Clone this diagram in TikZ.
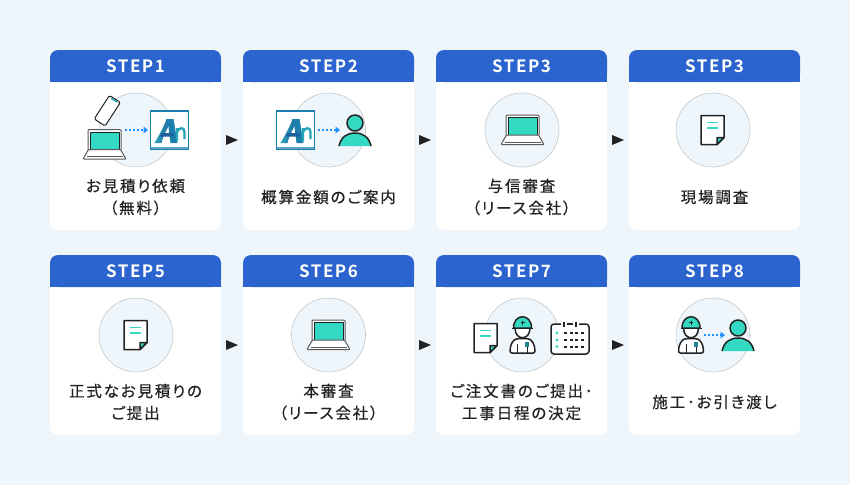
\documentclass[tikz,border=0pt]{standalone}
\usepackage{fontspec}
\newfontfamily\jpfont[RawFeature={+palt},LetterSpace=12,FakeBold=0.5]{Noto Sans CJK JP}
\newfontfamily\stepfont[LetterSpace=9]{Noto Sans CJK JP Bold}
\definecolor{pagebg}{HTML}{EEF6FC}
\definecolor{headblue}{HTML}{2B63CF}
\definecolor{teal1}{HTML}{33D9C3}
\definecolor{dotblue}{HTML}{1E90FF}
\definecolor{inkc}{HTML}{222222}
\definecolor{logoblue}{HTML}{1B7FAE}
\definecolor{logodark}{HTML}{1F5F9E}
\definecolor{logoteal}{HTML}{2AA5B8}
\definecolor{ringc}{HTML}{C4C8CA}
\tikzset{
  x=1pt,y=-1pt,
  headtext/.style={text=white,font=\stepfont\fontsize{17}{18}\selectfont,inner sep=0pt,anchor=center},
  bodytext/.style={text=inkc,font=\jpfont\fontsize{15.5}{22}\selectfont,align=center,inner sep=0pt,anchor=center},
  ring/.style={fill=pagebg,draw=ringc,line width=0.6pt},
  ink/.style={draw=inkc,line width=1.5pt,line join=round},
  thinink/.style={draw=inkc,line width=1.0pt,line join=round},
  nextarrow/.style={fill=inkc,draw=none},
  dotarrow/.style={draw=dotblue,line width=1.7pt,dash pattern=on 1.7pt off 2.4pt},
}
\newcommand{\stepcard}[4]{%
  \begin{scope}[shift={(#1,#2)}]
    \fill[white,rounded corners=8pt] (0,0) rectangle (171,180);
    \fill[headblue,rounded corners=8pt] (0,32) -- (0,0) -- (171,0) -- (171,32) -- cycle;
    \fill[headblue] (0,20) rectangle (171,32);
    \node[headtext] (#3) at (85.5,16.5) {#4};
  \end{scope}}
\newcommand{\nextmark}[2]{\fill[nextarrow] (#1,#2-5) -- (#1+12,#2) -- (#1,#2+5) -- cycle;}
\newcommand{\ringat}[2]{\draw[ring] (#1,#2) circle (37);}
\newcommand{\laptopicon}[2]{%
  \begin{scope}[shift={(#1,#2)}]
    \draw[thinink,draw=inkc!75,fill=white] (-16.5,5) -- (-16.5,-14) -- (-15.5,-15) -- (15.5,-15) -- (16.5,-14) -- (16.5,5);
    \draw[thinink,fill=teal1] (-14.5,-12.5) rectangle (14.5,5);
    \draw[thinink,draw=inkc!75,fill=white,rounded corners=0.8pt] (-16,5) -- (16,5) -- (21.5,14.5) -- (-21.5,14.5) -- cycle;
    \draw[draw=inkc!75,line width=0.6pt] (-18,12) -- (18,12);
  \end{scope}}
\newcommand{\docicon}[2]{%
  \begin{scope}[shift={(#1,#2)}]
    \draw[ink,fill=white] (-11.5,-14.5) -- (11.5,-14.5) -- (11.5,7.5) -- (4.5,14.5) -- (-11.5,14.5) -- cycle;
    \draw[ink,fill=teal1] (11.5,7.5) -- (4.5,7.5) -- (4.5,14.5) -- cycle;
    \draw[teal1,line width=1.5pt] (-5.5,-7.5) -- (5.5,-7.5) (-5.5,-2) -- (5.5,-2);
  \end{scope}}
\newcommand{\anlogo}[2]{%
  \begin{scope}[shift={(#1,#2)}]
    \draw[draw=logoblue,line width=1.3pt,fill=white] (-19,-19) rectangle (19,19);
    \fill[logoblue!70] (-18.5,16.5) rectangle (18.5,18.5);
    \shade[left color=logoteal,right color=logodark] (-15,13) .. controls (-9,3) and (-5,-5) .. (-3,-11) -- (4,-11) .. controls (-1,-5) and (-6,5) .. (-8,13) -- cycle;
    \fill[logoblue] (-2,-11) -- (4,-11) -- (8,13) -- (1,13) -- cycle;
    \fill[logodark] (-8,3) -- (4,3) -- (4,6.5) -- (-10,6.5) -- cycle;
    \draw[logoteal,line width=2.4pt] (7.5,11) -- (7.5,-2) (7.5,2) .. controls (9.5,-3) and (15,-3) .. (15,2) -- (15,9);
  \end{scope}}
\newcommand{\personicon}[3]{%
  \begin{scope}[shift={(#1,#2)}]
    \fill[teal1] (-16,23) .. controls (-14,14) and (-8,10) .. (0,10) .. controls (8,10) and (14,14) .. (16,23) -- cycle;
    \draw[ink] (-16,23) .. controls (-14,14) and (-8,10) .. (0,10) .. controls (8,10) and (14,14) .. (16,23);
    \draw[ink,fill=teal1] (0,0) circle (#3);
  \end{scope}}
\newcommand{\workericon}[2]{%
  \begin{scope}[shift={(#1,#2)}]
    \draw[ink,fill=white,rounded corners=2pt] (-12.5,18) .. controls (-12.5,9) and (-9,5) .. (-5,3.5) -- (5,3.5) .. controls (9,5) and (12.5,9) .. (12.5,18) -- cycle;
    \draw[thinink] (-5,9) -- (-5,18) (5,9) -- (5,18);
    \fill[logoteal!80!black] (2.5,7) rectangle (6.5,12);
    \draw[ink,fill=white] (-7.5,-7) .. controls (-7.5,6) and (7.5,6) .. (7.5,-7) -- cycle;
    \draw[ink,fill=teal1] (-9,-7) .. controls (-9,-22) and (9,-22) .. (9,-7) -- cycle;
    \draw[thinink] (-10.5,-7) -- (10.5,-7);
    \draw[inkc,line width=0.9pt] (-2,-12.5) -- (2,-12.5) (0,-14.5) -- (0,-10.5);
  \end{scope}}
\newcommand{\calendaricon}[2]{%
  \begin{scope}[shift={(#1,#2)}]
    \draw[ink,fill=white,rounded corners=3pt] (-19,-14) rectangle (19,16);
    \fill[white] (-9,-17) rectangle (9,-11);
    \draw[ink] (-6,-16.5) -- (-6,-11) (6,-16.5) -- (6,-11);
    \draw[ink] (-3,-14) -- (3,-14);
    \foreach \yy in {-5,2,8.5}{
      \foreach \xx in {-6,-0.5,5,10.5}{\fill[inkc] (\xx,\yy-1) rectangle (\xx+3,\yy+1);}
      \fill[teal1] (-13,\yy) circle (1.6);
    }
  \end{scope}}
\newcommand{\phoneicon}[2]{%
  \begin{scope}[shift={(#1,#2)},rotate=-33]
    \draw[thinink,fill=white,rounded corners=1.5pt] (-6.5,-14) rectangle (6.5,14);
    \fill[logoteal] (-3.5,-13.3) rectangle (3.5,-11.8);
  \end{scope}}
\begin{document}
\begin{tikzpicture}
\useasboundingbox (0,0) rectangle (850,485);
\fill[pagebg] (0,0) rectangle (850,485);
\stepcard{50}{50}{h1}{STEP1}
\stepcard{243}{50}{h2}{STEP2}
\stepcard{436}{50}{h3}{STEP3}
\stepcard{629}{50}{h4}{STEP3}
\stepcard{50}{255}{h5}{STEP5}
\stepcard{243}{255}{h6}{STEP6}
\stepcard{436}{255}{h7}{STEP7}
\stepcard{629}{255}{h8}{STEP8}
\foreach \ax in {226,419,612}{\nextmark{\ax}{140}\nextmark{\ax}{345}}
\ringat{136}{130}\ringat{328.5}{130}\ringat{522}{130}\ringat{713}{130}
\ringat{136}{335}\ringat{328.5}{335}\ringat{522}{335}\ringat{713}{335}
% step 1
\phoneicon{107.3}{110.7}
\laptopicon{104.5}{144.5}
\draw[dotarrow] (125,130) -- (144,130);
\fill[dotblue] (143.5,126.5) -- (148,130) -- (143.5,133.5) -- cycle;
\anlogo{169.5}{130}
% step 2
\anlogo{295.5}{130}
\draw[dotarrow] (318,130) -- (336,130);
\fill[dotblue] (335.5,126.5) -- (340,130) -- (335.5,133.5) -- cycle;
\personicon{355}{123}{8}
% step 3,4
\laptopicon{522.5}{130}
\docicon{712.5}{130}
% step 5,6
\docicon{135.5}{335}
\laptopicon{328.5}{335}
% step 7
\docicon{485.5}{338}
\workericon{522.5}{335}
\calendaricon{570}{338}
% step 8
\workericon{691}{335}
\draw[dotarrow] (704,335) -- (721,335);
\fill[dotblue] (720.5,331.5) -- (725,335) -- (720.5,338.5) -- cycle;
\personicon{738}{328}{8}
% texts
\node[bodytext] (t1) at (135.5,197) {お見積り依頼\\（無料）};
\node[bodytext] (t2) at (328.5,197) {概算金額のご案内};
\node[bodytext] (t3) at (521.5,197) {与信審査\\（リース会社）};
\node[bodytext] (t4) at (714.5,197) {現場調査};
\node[bodytext] (t5) at (135.5,402) {正式なお見積りの\\ご提出};
\node[bodytext] (t6) at (328.5,402) {本審査\\（リース会社）};
\node[bodytext] (t7) at (521.5,402) {ご注文書のご提出･\\工事日程の決定};
\node[bodytext] (t8) at (714.5,402) {施工･お引き渡し};
\end{tikzpicture}
\end{document}
